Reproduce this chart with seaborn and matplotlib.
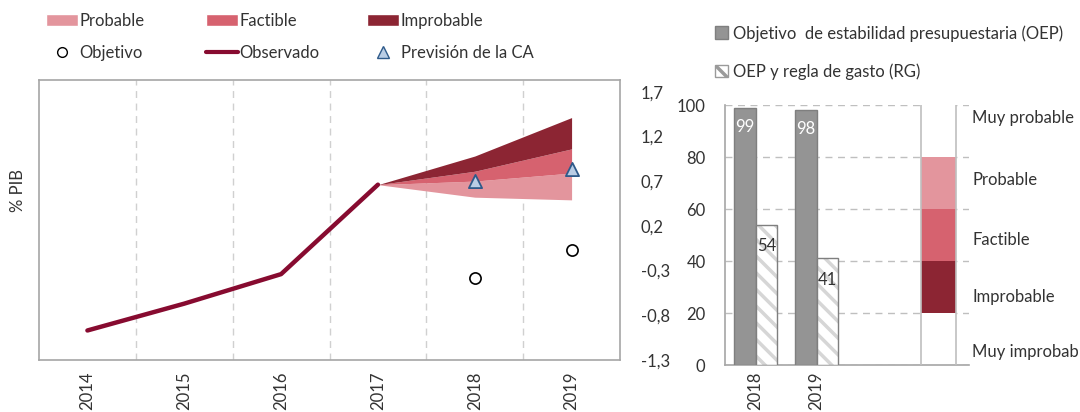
import numpy as np
import pandas as pd
import matplotlib
matplotlib.use("Agg")
import matplotlib.pyplot as plt
import seaborn as sns
from matplotlib.patches import Patch
from matplotlib.lines import Line2D

# ---------------- data ----------------
years = [2014, 2015, 2016, 2017, 2018, 2019]
observado = [-0.97, -0.67, -0.34, 0.66]
fan_years = [2017, 2018, 2019]
fan_low = [0.66, 0.52, 0.49]
fan_probable = [0.66, 0.70, 0.79]
fan_factible = [0.66, 0.81, 1.06]
fan_improbable = [0.66, 0.98, 1.41]
obj_years = [2018, 2019]
objetivo = [-0.38, -0.07]
prevision = [0.70, 0.84]
left_yticks = [-1.3, -0.8, -0.3, 0.2, 0.7, 1.2, 1.7]

bar_years = ["2018", "2019"]
oep = [99, 98]
rg = [54, 41]
scale_edges = [0, 20, 40, 60, 80, 100]
scale_labels = ["Muy improbable", "Improbable", "Factible", "Probable", "Muy probable"]

# layout: vertical placement of the scale labels (axis units)
scale_label_y = [5, 26, 48, 71, 95]

C_PROB = "#E3959D"
C_FACT = "#D6626F"
C_IMPR = "#8C2533"
C_OBS = "#870B30"
C_GRID = "#D0D0D0"
C_SPINE = "#A6A6A6"
C_TEXT = "#333333"
C_HATCH = "#D6D6D6"

sns.set_theme(style="white")
plt.rcParams["font.family"] = ["Lato", "DejaVu Sans"]
plt.rcParams["text.color"] = C_TEXT
plt.rcParams["axes.labelcolor"] = C_TEXT
plt.rcParams["xtick.color"] = C_TEXT
plt.rcParams["ytick.color"] = C_TEXT
plt.rcParams["hatch.color"] = C_HATCH
plt.rcParams["hatch.linewidth"] = 2.5

fig = plt.figure(figsize=(10.8, 4.12), dpi=100)

# ---------------- left chart ----------------
ax = fig.add_axes([39/1080, 1-360/412, (620-39)/1080, (360-80)/412])
ax.fill_between(fan_years, fan_low, fan_probable, color=C_PROB, lw=0, zorder=2)
ax.fill_between(fan_years, fan_probable, fan_factible, color=C_FACT, lw=0, zorder=2)
ax.fill_between(fan_years, fan_factible, fan_improbable, color=C_IMPR, lw=0, zorder=2)

df_obs = pd.DataFrame({"year": years[:len(observado)], "val": observado})
sns.lineplot(data=df_obs, x="year", y="val", color=C_OBS, lw=3.2, ax=ax, zorder=3)
sns.scatterplot(x=obj_years, y=objetivo, marker="o", s=65, facecolor="white",
                edgecolor="black", linewidth=1.2, ax=ax, zorder=4)
sns.scatterplot(x=obj_years, y=prevision, marker="^", s=90, facecolor="#B9CDE5",
                edgecolor="#2E5A8A", linewidth=1.3, ax=ax, zorder=4)

ax.set_xlim(2013.5, 2019.5)
ax.set_ylim(-1.3, 1.83)
ax.set_xticks(years)
ax.set_xticklabels([str(y) for y in years], rotation=90, fontsize=12)
ax.set_xticks([y + 0.5 for y in years[:-1]], minor=True)
ax.grid(False)
ax.grid(True, which="minor", axis="x", color=C_GRID, ls=(0, (5, 4)), lw=1)
ax.yaxis.tick_right()
ax.set_yticks(left_yticks)
ax.set_yticklabels([f"{v:.1f}".replace(".", ",") for v in left_yticks], fontsize=12)
ax.tick_params(axis="y", length=0, pad=15)
ax.tick_params(axis="x", which="both", length=0, pad=8)
ax.set_xlabel("")
ax.set_ylabel("")
for s in ax.spines.values():
    s.set_color(C_SPINE)
    s.set_linewidth(1.2)
fig.text(18/1080, 1-190/412, "% PIB", rotation=90, ha="center", va="center", fontsize=12)

# legends (three columns)
leg_kw = dict(frameon=False, fontsize=12, handletextpad=0.12, labelspacing=0.95,
              borderpad=0, borderaxespad=0, loc="upper left", handlelength=1.9)
h1 = [Patch(facecolor=C_PROB), Line2D([], [], marker="o", ls="none", mfc="white", mec="black", ms=7)]
h2 = [Patch(facecolor=C_FACT), Line2D([], [], color=C_OBS, lw=3)]
h3 = [Patch(facecolor=C_IMPR), Line2D([], [], marker="^", ls="none", mfc="#B9CDE5", mec="#2E5A8A", ms=8)]
fig.legend(h1, ["Probable", "Objetivo"], bbox_to_anchor=(46/1080, 1-13/412), **leg_kw)
fig.legend(h2, ["Factible", "Observado"], bbox_to_anchor=(206/1080, 1-13/412), **leg_kw)
fig.legend(h3, ["Improbable", "Previsión de la CA"], bbox_to_anchor=(367/1080, 1-13/412), **leg_kw)

# ---------------- right chart ----------------
ax2 = fig.add_axes([725/1080, 1-365/412, (969-725)/1080, (365-105)/412])
xpos = np.arange(len(bar_years))
bw = 0.36
ax2.bar(xpos - bw/2, oep, width=bw, color="#949494", edgecolor="#7F7F7F", lw=1, zorder=3)
ax2.bar(xpos + bw/2, rg, width=bw, color="white", edgecolor=C_HATCH, lw=0,
        hatch="\\\\", zorder=3)
ax2.bar(xpos + bw/2, rg, width=bw, fill=False, edgecolor="#7F7F7F", lw=1, zorder=3.5)
for x, v in zip(xpos, oep):
    ax2.annotate(str(v), (x - bw/2, v), xytext=(0, -8), textcoords="offset points",
                 ha="center", va="top", color="white", fontsize=12, zorder=5)
for x, v in zip(xpos, rg):
    ax2.annotate(str(v), (x + bw/2, v), xytext=(0, -10), textcoords="offset points",
                 ha="center", va="top", color=C_TEXT, fontsize=12, zorder=5)

# probability scale column
scale_x = 3
scale_colors = ["white", C_IMPR, C_FACT, C_PROB, "white"]
for lo, hi, col in zip(scale_edges[:-1], scale_edges[1:], scale_colors):
    ax2.bar(scale_x, hi - lo, bottom=lo, width=0.56, color=col, lw=0, zorder=2)
ax2.vlines([scale_x - 0.28, scale_x + 0.28], 0, 100, color="#BFBFBF", lw=1.2, zorder=3)
for yy, lab in zip(scale_label_y, scale_labels):
    ax2.text(3.55, yy, lab, ha="left", va="center", fontsize=12, clip_on=False)

ax2.set_xlim(-0.5, 3.5)
ax2.set_ylim(0, 100)
ax2.set_yticks([0, 20, 40, 60, 80, 100])
ax2.set_yticklabels(["0", "20", "40", "60", "80", "100"], fontsize=12)
ax2.set_xticks(xpos)
ax2.set_xticklabels(bar_years, rotation=90, fontsize=12)
ax2.tick_params(axis="both", length=0)
ax2.tick_params(axis="y", pad=14)
ax2.tick_params(axis="x", pad=5)
ax2.grid(False)
ax2.grid(True, axis="y", color="#BFBFBF", ls=(0, (5, 4)), lw=1, zorder=0)
ax2.set_axisbelow(True)
for s in ["top", "right"]:
    ax2.spines[s].set_visible(False)
for s in ["left", "bottom"]:
    ax2.spines[s].set_color(C_SPINE)
    ax2.spines[s].set_linewidth(1.2)

hr = [Patch(facecolor="#949494", edgecolor="#7F7F7F"),
      Patch(facecolor="white", edgecolor="#9A9A9A", hatch="\\\\")]
fig.legend(hr, ["Objetivo  de estabilidad presupuestaria (OEP)", "OEP y regla de gasto (RG)"],
           bbox_to_anchor=(715/1080, 1-25/412), loc="upper left", frameon=False,
           fontsize=12, handlelength=0.8, handleheight=0.8, handletextpad=0.3,
           labelspacing=1.3, borderpad=0, borderaxespad=0)

fig.savefig("out.png", dpi=100)
